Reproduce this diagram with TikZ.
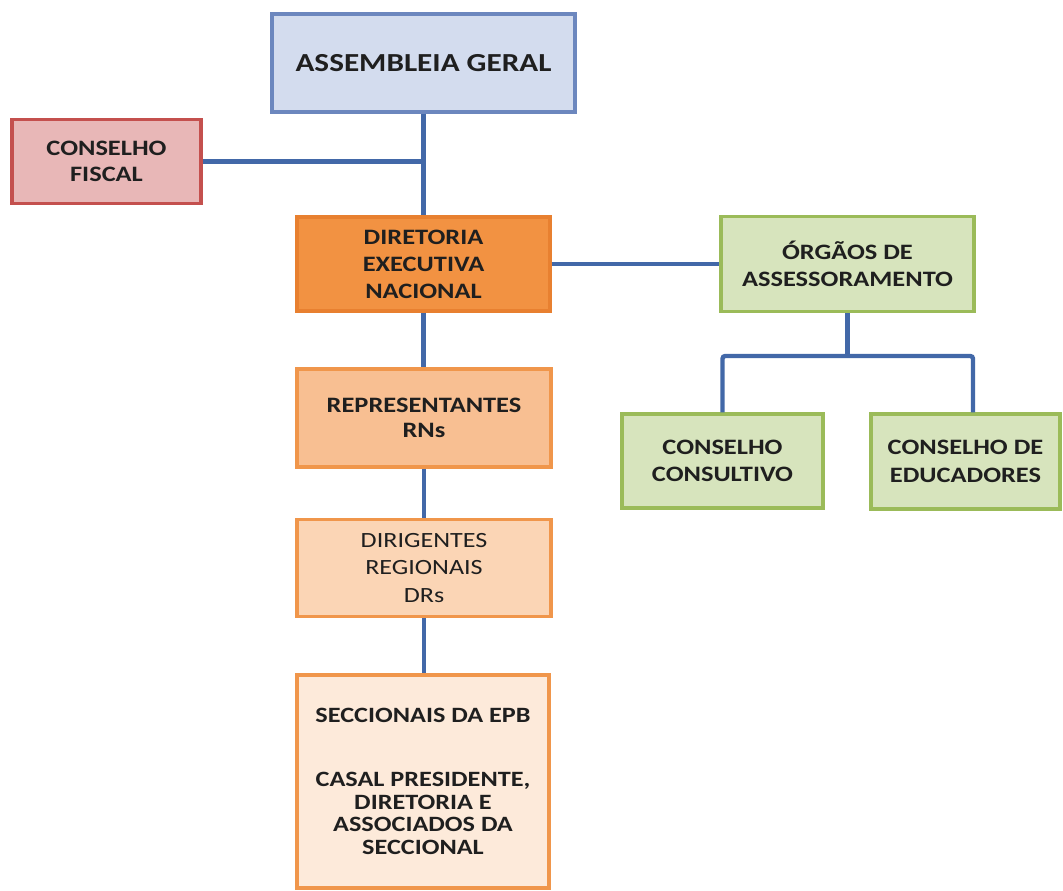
\documentclass[tikz,border=0pt]{standalone}
\usepackage{fontspec}
\setmainfont{Carlito}[FakeStretch=1.2]
\definecolor{agfill}{RGB}{211,220,238}
\definecolor{agdraw}{RGB}{108,135,190}
\definecolor{fsfill}{RGB}{232,183,183}
\definecolor{fsdraw}{RGB}{196,80,78}
\definecolor{exfill}{RGB}{242,146,66}
\definecolor{exdraw}{RGB}{232,128,48}
\definecolor{rpfill}{RGB}{248,191,146}
\definecolor{rgfill}{RGB}{251,213,181}
\definecolor{scfill}{RGB}{253,234,218}
\definecolor{ordraw}{RGB}{240,150,75}
\definecolor{grfill}{RGB}{215,228,189}
\definecolor{grdraw}{RGB}{155,187,89}
\definecolor{linkblue}{RGB}{66,104,168}
\tikzset{
        boxbase/.style={rectangle, align=center, line width=2.6pt, inner sep=2pt, text=black!88,
          font=\bfseries\fontsize{16.5}{19.5}\selectfont},
        assembly/.style={boxbase, fill=agfill, draw=agdraw, font=\bfseries\fontsize{19.5}{23}\selectfont},
        fiscalbox/.style={boxbase, fill=fsfill, draw=fsdraw},
        execbox/.style={boxbase, fill=exfill, draw=exdraw, font=\bfseries\fontsize{16.5}{20.3}\selectfont},
        repbox/.style={boxbase, fill=rpfill, draw=ordraw, font=\bfseries\fontsize{16.5}{18.8}\selectfont},
        regbox/.style={boxbase, fill=rgfill, draw=ordraw, font=\fontsize{16.3}{20.3}\selectfont},
        secbox/.style={boxbase, fill=scfill, draw=ordraw, font=\bfseries\fontsize{16.4}{16.9}\selectfont},
        advbox/.style={boxbase, fill=grfill, draw=grdraw, font=\bfseries\fontsize{16.5}{20.5}\selectfont},
        link/.style={draw=linkblue, line width=3.3pt}
          }
\begin{document}
\begin{tikzpicture}[x=0.75pt, y=-0.75pt]
        \useasboundingbox (0,0) rectangle (1063,890);
        % boxes
        \node[assembly, minimum width=227.25pt, minimum height=73.5pt] (ag) at (423.5,63) {ASSEMBLEIA GERAL};
        \node[fiscalbox, minimum width=141.75pt, minimum height=63pt] (fiscal) at (106.5,161.5) {CONSELHO\\FISCAL};
        \node[execbox, minimum width=189.75pt, minimum height=70.5pt] (dir) at (423.5,264) {DIRETORIA\\EXECUTIVA\\NACIONAL};
        \node[advbox, minimum width=189.75pt, minimum height=71.25pt] (org) at (847.5,264) {ÓRGÃOS DE\\ASSESSORAMENTO};
        \node[repbox, minimum width=190.5pt, minimum height=73.5pt] (rep) at (424,418) {REPRESENTANTES\\RNs};
        \node[regbox, minimum width=190.5pt, minimum height=72.75pt] (dirig) at (424,568) {DIRIGENTES\\REGIONAIS\\DRs};
        \node[secbox, minimum width=189pt, minimum height=159.75pt] (sec) at (423,781.5)
          {SECCIONAIS DA EPB\\[31pt]CASAL PRESIDENTE,\\DIRETORIA E\\ASSOCIADOS DA\\SECCIONAL};
        \node[advbox, minimum width=150.75pt, minimum height=70.5pt] (consult) at (722.5,461) {CONSELHO\\CONSULTIVO};
        \node[advbox, minimum width=141.75pt, minimum height=71.25pt] (educ) at (965.5,461.5) {CONSELHO DE\\EDUCADORES};
        % connectors
        \coordinate (forkR) at (973,356);
        \draw[link] (ag.south) -- (ag.south |- dir.north);
        \draw[link] (fiscal.east) -- (fiscal.east -| ag.south);
        \draw[link] (dir.east) -- (org.west);
        \draw[link] (dir.south) -- (dir.south |- rep.north);
        \draw[link] (rep.south) -- (rep.south |- dirig.north);
        \draw[link] (dirig.south) -- (dirig.south |- sec.north);
        \draw[link] (org.south) -- (org.south |- forkR);
        \draw[link, rounded corners=2pt] (consult.north) |- (forkR) -- (forkR |- educ.north);
      \end{tikzpicture}
\end{document}
